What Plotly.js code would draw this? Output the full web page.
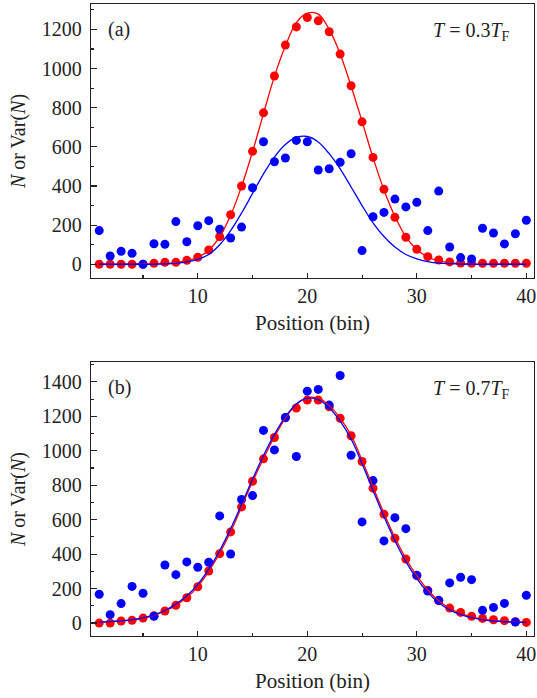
<!DOCTYPE html>
<html>
<head>
<meta charset="utf-8">
<script src="https://cdn.plot.ly/plotly-3.0.1.min.js"></script>
<style>
  html, body { margin: 0; padding: 0; background: #fff; }
  #chart { width: 537px; height: 698px; }
</style>
</head>
<body>
<div id="chart"></div>
<script>
// ---------- data ----------
const bins = [1,2,3,4,5,6,7,8,9,10,11,12,13,14,15,16,17,18,19,20,21,22,23,24,25,26,27,28,29,30,31,32,33,34,35,36,37,38,39,40];

// panel (a) T = 0.3 T_F
const aN   = [0,0,0,0,0,5,10,10,20,36,73,141,253,400,577,774,962,1120,1213,1261,1244,1188,1074,912,728,546,383,240,138,77,39,22,12,6,5,5,5,5,5,5];
const aVar = [172,42,66,56,0,105,102,218,115,197,223,179,134,190,391,626,524,543,633,626,482,488,521,565,70,243,265,333,293,317,172,374,88,34,27,184,160,104,156,225];
const aNFit   = [0,0,0,1,2,3,4,8,18,36,72,140,250,398,575,770,960,1115,1235,1283,1278,1200,1075,910,730,545,380,245,140,75,37,17,7,3,1,0,0,0,0,0];
const aVarFit = [0,0,0,0,0,0,2,5,12,25,50,100,172,262,362,462,548,612,648,653,625,565,488,395,300,212,142,88,50,28,14,6,3,1,0,0,0,0,0,0];

// panel (b) T = 0.7 T_F
const bN   = [0,0,12,16,29,43,70,103,147,211,302,403,529,674,823,953,1077,1191,1248,1294,1294,1255,1189,1087,938,783,632,492,372,275,190,130,87,62,39,27,19,14,8,4];
const bVar = [167,49,113,213,173,39,337,281,355,324,353,622,401,717,740,1118,1005,1193,967,1346,1356,1265,1437,974,587,827,477,612,548,277,186,132,233,266,252,74,91,114,6,161];
const bNFit   = [5,8,12,18,27,45,70,103,148,212,300,405,530,675,820,955,1080,1190,1268,1308,1305,1262,1190,1090,945,790,638,497,375,275,192,130,86,56,36,23,15,10,7,5];
const bVarFit = [6,9,13,20,30,47,73,110,158,225,313,420,548,690,835,972,1095,1198,1272,1305,1297,1250,1172,1068,925,770,618,478,357,258,178,118,77,49,31,19,12,8,5,4];

const xTicks = [10,20,30,40];
const panelLabels = ['(a)', '(b)'];
const tempLabels = ['<i>T</i> = 0.3<i>T</i><sub>F</sub>', '<i>T</i> = 0.7<i>T</i><sub>F</sub>'];
const xTitle = 'Position (bin)';
const yTitle = '<i>N</i> or Var(<i>N</i>)';

// ---------- styling ----------
const RED = '#ff0000', BLUE = '#0000ff';
const FONT = 'Liberation Serif';
const TXT = '#222222';

function pts(y, color, xa, ya) {
  return { x: bins, y: y, type: 'scatter', mode: 'markers', xaxis: xa, yaxis: ya,
           marker: { color: color, size: 9, line: { width: 0 } }, showlegend: false, hoverinfo: 'skip' };
}
function fit(y, color, xa, ya) {
  return { x: bins, y: y, type: 'scatter', mode: 'lines', xaxis: xa, yaxis: ya,
           line: { color: color, width: 1.3, shape: 'spline', smoothing: 1 }, showlegend: false, hoverinfo: 'skip' };
}

const traces = [
  pts(aN, RED, 'x', 'y'), pts(aVar, BLUE, 'x', 'y'), fit(aNFit, RED, 'x', 'y'), fit(aVarFit, BLUE, 'x', 'y'),
  pts(bN, RED, 'x2', 'y2'), pts(bVar, BLUE, 'x2', 'y2'), fit(bNFit, RED, 'x2', 'y2'), fit(bVarFit, BLUE, 'x2', 'y2')
];

function xaxis(anchor) {
  return {
    anchor: anchor, domain: [0, 1], range: [0.25, 40.7],
    tickmode: 'array', tickvals: xTicks, ticktext: xTicks.map(String),
    ticks: 'inside', ticklen: 5, tickwidth: 1.2, tickcolor: '#222',
    minor: { ticks: 'inside', ticklen: 3, dtick: 5, tick0: 0, tickwidth: 1.1, tickcolor: '#222', showgrid: false },
    showline: true, linecolor: '#222', linewidth: 1.3, mirror: true,
    showgrid: false, zeroline: false,
    tickfont: { family: FONT, size: 20, color: TXT },
    title: { text: xTitle, font: { family: FONT, size: 21, color: TXT }, standoff: 9 },
    automargin: false
  };
}
function yaxis(anchor, domain, range) {
  return {
    anchor: anchor, domain: domain, range: range,
    tick0: 0, dtick: 200,
    ticks: 'inside', ticklen: 6, tickwidth: 1.2, tickcolor: '#222',
    minor: { ticks: 'inside', ticklen: 3, dtick: 100, tick0: 0, tickwidth: 1.1, tickcolor: '#222', showgrid: false },
    showline: true, linecolor: '#222', linewidth: 1.3, mirror: true,
    showgrid: false, zeroline: false,
    tickfont: { family: FONT, size: 20, color: TXT },
    ticklabelstandoff: 4,
    title: { text: yTitle, font: { family: FONT, size: 20, color: TXT }, standoff: 10 },
    automargin: false
  };
}

function ann(text, xr, yr, x, y, xanchor) {
  return { text: text, xref: xr, yref: yr, x: x, y: y, xanchor: xanchor, yanchor: 'middle',
           showarrow: false, font: { family: FONT, size: 20, color: TXT } };
}

const layout = {
  width: 537, height: 698,
  margin: { l: 91, r: 3, t: 4, b: 62 },
  paper_bgcolor: '#fff', plot_bgcolor: '#fff',
  font: { family: FONT, size: 20, color: TXT },
  xaxis: xaxis('y'),
  yaxis: yaxis('x', [0.5665, 1], [-70, 1330]),
  xaxis2: xaxis('y2'),
  yaxis2: yaxis('x2', [0, 0.4335], [-75, 1515]),
  annotations: [
    ann(panelLabels[0], 'x domain', 'y domain', 0.034, 0.907, 'left'),
    ann(tempLabels[0], 'x domain', 'y domain', 0.95, 0.9, 'right'),
    ann(panelLabels[1], 'x2 domain', 'y2 domain', 0.034, 0.907, 'left'),
    ann(tempLabels[1], 'x2 domain', 'y2 domain', 0.95, 0.9, 'right')
  ],
  showlegend: false
};

Plotly.newPlot('chart', traces, layout, { staticPlot: true, displayModeBar: false });
</script>
</body>
</html>
